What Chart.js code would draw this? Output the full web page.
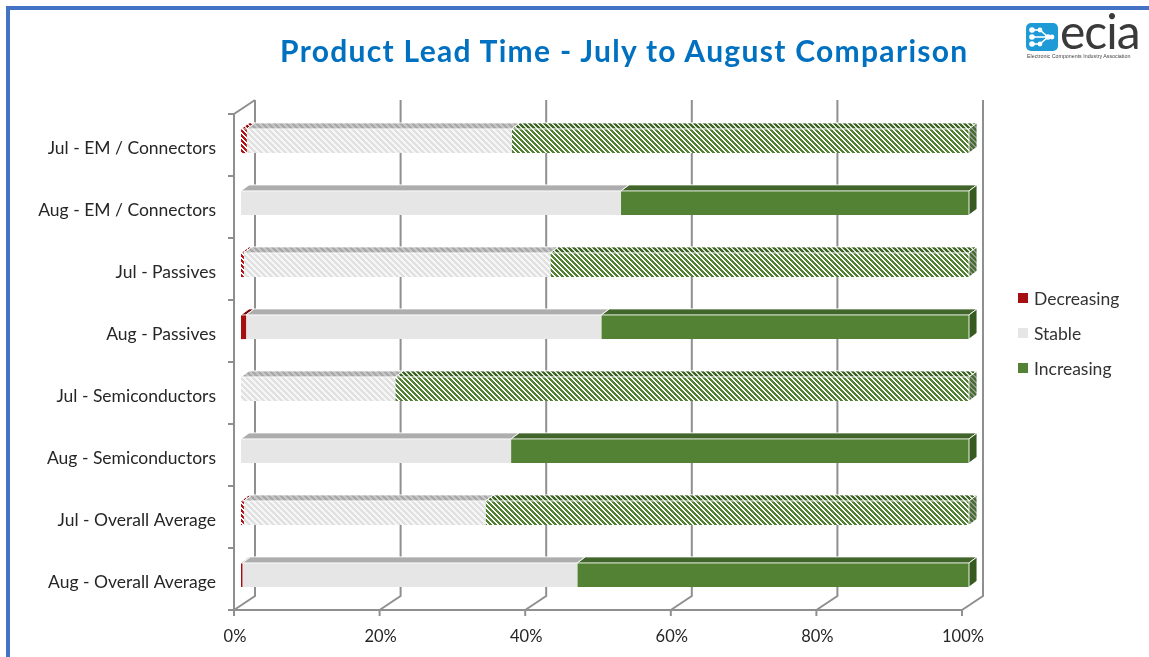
<!DOCTYPE html>
<html><head><meta charset="utf-8">
<script src="https://cdn.jsdelivr.net/npm/chart.js@4"></script>
<style>
html,body{margin:0;padding:0;background:#fff;width:1149px;height:657px;overflow:hidden;}
#frame{position:absolute;left:6px;top:6px;width:1160px;height:670px;border-top:4px solid #4472C4;border-left:4px solid #4472C4;}
#c{position:absolute;left:0;top:0;}
#title{position:absolute;left:280px;top:30px;white-space:nowrap;font-family:Lato,'Open Sans',sans-serif;font-weight:bold;color:#0070C0;font-size:30px;letter-spacing:1.3px;line-height:40px;}
#logo{position:absolute;left:1026px;top:20px;width:122px;height:44px;}
#logo .word{position:absolute;left:34px;top:-13px;font-family:Lato,sans-serif;font-size:48px;color:#3a3a3a;line-height:48px;letter-spacing:-1px;}
#logo .sub{position:absolute;left:1px;top:33px;font-family:'Liberation Sans',sans-serif;font-size:5.3px;color:#444;white-space:nowrap;}
</style></head>
<body>
<div id="frame"></div>
<canvas id="c" width="1149" height="657"></canvas>
<div id="title">Product Lead Time - July to August Comparison</div>
<div id="logo">
<svg width="32" height="28" style="position:absolute;left:0;top:3px" viewBox="0 0 32 28">
<rect x="0" y="0" width="32" height="28" rx="5" fill="#1E9AD6"/>
<g fill="#fff" stroke="#fff" stroke-width="1.6">
<circle cx="6" cy="7" r="2"/><circle cx="6" cy="14" r="2"/><circle cx="6" cy="21" r="2"/>
<circle cx="14" cy="7" r="1.6"/><circle cx="14" cy="21" r="1.6"/>
<line x1="6" y1="7" x2="14" y2="7"/><line x1="14" y1="7" x2="22" y2="14"/>
<line x1="6" y1="21" x2="14" y2="21"/><line x1="14" y1="21" x2="22" y2="14"/>
<line x1="6" y1="14" x2="26" y2="14"/>
<circle cx="22" cy="14" r="2"/><circle cx="26" cy="14" r="1.6"/>
</g></svg>
<div class="word">ecia</div>
<div class="sub">Electronic Components Industry Association</div>
</div>
<script>
// ---- data ----
const categories = ['Jul - EM / Connectors','Aug - EM / Connectors','Jul - Passives','Aug - Passives','Jul - Semiconductors','Aug - Semiconductors','Jul - Overall Average','Aug - Overall Average'];
const seriesNames = ['Decreasing','Stable','Increasing'];
const decreasing = [0.8, 0, 0.4, 0.7, 0, 0, 0.4, 0.2];
const stable     = [36.4, 52.2, 42.1, 48.8, 21.2, 37.1, 33.2, 46.0];
const increasing = [62.8, 47.8, 57.5, 50.5, 78.8, 62.9, 66.4, 53.8];
const xTicks = [0, 20, 40, 60, 80, 100];

// ---- styles ----
const solidFront = ['#A50F0F', '#E6E6E6', '#548235'];
const solidTop   = ['#7A0A0A', '#ADADAD', '#41652A'];
const solidSide  = ['#6A0808', '#9A9A9A', '#375A20'];
const mainCtx = document.getElementById('c').getContext('2d');
function stripe(c1, c2, period, on) {
  const cv = document.createElement('canvas'); cv.width = period; cv.height = period;
  const cx = cv.getContext('2d');
  for (let y = 0; y < period; y++) for (let x = 0; x < period; x++) {
    const k = ((x - y) % period + period) % period;
    cx.fillStyle = k < on ? c1 : c2; cx.fillRect(x, y, 1, 1);
  }
  return mainCtx.createPattern(cv, 'repeat');
}
const hatchFront = [stripe('#B01414','#FFFFFF',5,3), stripe('#E0E0E0','#F6F6F6',6,3), stripe('#548235','#FFFFFF',5,3)];
const hatchTop   = [stripe('#8A0A0A','#E8C8C8',5,3), stripe('#A8A8A8','#C6C6C6',6,3), stripe('#3F6428','#DDE6D6',5,3)];
const hatchSide  = [stripe('#7A0808','#B89898',5,3), stripe('#999999','#BBBBBB',6,3), stripe('#4A6B36','#8E9E84',5,3)];
const isJul = i => categories[i].startsWith('Jul');

// 3D offsets
const DX = 8, DY = -6;
const FRONT = {dx: -7, dy: 4}, BACK = {dx: 14, dy: -10};
const GRID = '#8F8F8F';
const TEXT_FONT = 'Lato';

const framePlugin = {
  id: 'frame3d',
  beforeDatasetsDraw(chart) {
    const ctx = chart.ctx, xs = chart.scales.x, ca = chart.chartArea;
    ctx.save();
    ctx.strokeStyle = GRID; ctx.lineWidth = 2; ctx.lineCap = 'butt';
    const topB = ca.top + BACK.dy, botB = ca.bottom + BACK.dy;
    const topF = ca.top + FRONT.dy, botF = ca.bottom + FRONT.dy;
    xTicks.forEach(v => {
      const px = xs.getPixelForValue(v);
      ctx.beginPath();
      ctx.moveTo(px + BACK.dx, topB); ctx.lineTo(px + BACK.dx, botB);
      ctx.lineTo(px + FRONT.dx, botF);
      ctx.stroke();
      ctx.beginPath(); ctx.moveTo(px + FRONT.dx, botF); ctx.lineTo(px + FRONT.dx, botF + 6); ctx.stroke();
    });
    const x0 = xs.getPixelForValue(0), x1 = xs.getPixelForValue(100);
    ctx.beginPath(); ctx.moveTo(x0 + FRONT.dx, botF); ctx.lineTo(x1 + FRONT.dx, botF); ctx.stroke();
    ctx.beginPath();
    ctx.moveTo(x0 + BACK.dx, topB); ctx.lineTo(x0 + FRONT.dx, topF); ctx.lineTo(x0 + FRONT.dx, botF);
    ctx.stroke();
    const n = categories.length, band = (ca.bottom - ca.top) / n;
    for (let k = 0; k <= n; k++) {
      const y = ca.top + band * k + FRONT.dy;
      ctx.beginPath(); ctx.moveTo(x0 + FRONT.dx - 6, y); ctx.lineTo(x0 + FRONT.dx, y); ctx.stroke();
    }
    ctx.restore();
  },
  afterDatasetsDraw(chart) {
    const ctx = chart.ctx;
    ctx.save();
    const metas = chart.data.datasets.map((d, i) => chart.getDatasetMeta(i));
    categories.forEach((c, i) => {
      let last = -1;
      metas.forEach((m, d) => {
        const el = m.data[i]; const p = el.getProps(['x','y','base','height'], true);
        const l = Math.min(p.x, p.base), r = Math.max(p.x, p.base);
        if (r - l < 0.05) return;
        last = d;
        const t = p.y - p.height / 2;
        ctx.beginPath();
        ctx.moveTo(l, t); ctx.lineTo(r, t); ctx.lineTo(r + DX, t + DY); ctx.lineTo(l + DX, t + DY); ctx.closePath();
        ctx.fillStyle = isJul(i) ? hatchTop[d] : solidTop[d];
        ctx.fill();
        ctx.strokeStyle = 'rgba(255,255,255,0.9)'; ctx.lineWidth = 1; ctx.stroke();
      });
      if (last >= 0) {
        const p = metas[last].data[i].getProps(['x','y','base','height'], true);
        const r = Math.max(p.x, p.base), t = p.y - p.height / 2, b = p.y + p.height / 2;
        ctx.beginPath();
        ctx.moveTo(r, t); ctx.lineTo(r + DX, t + DY); ctx.lineTo(r + DX, b + DY); ctx.lineTo(r, b); ctx.closePath();
        ctx.fillStyle = isJul(i) ? hatchSide[last] : solidSide[last];
        ctx.fill();
        ctx.strokeStyle = 'rgba(255,255,255,0.9)'; ctx.lineWidth = 1; ctx.stroke();
      }
    });
    ctx.restore();
  },
  afterDraw(chart) {
    const ctx = chart.ctx;
    ctx.save();
    ctx.font = '17.5px ' + TEXT_FONT + ', sans-serif'; ctx.textBaseline = 'middle';
    seriesNames.forEach((s, k) => {
      const y = 298 + k * 35;
      ctx.fillStyle = solidFront[k]; ctx.fillRect(1018, y - 5, 10, 10);
      ctx.fillStyle = '#333'; ctx.fillText(s, 1034, y + 1);
    });
    ctx.restore();
  }
};

const mk = (label, data, d) => ({
  label, data, borderWidth: 0,
  backgroundColor: ctx => isJul(ctx.dataIndex) ? hatchFront[d] : solidFront[d],
  categoryPercentage: 1, barPercentage: 0.39
});

new Chart(document.getElementById('c'), {
  type: 'bar',
  data: { labels: categories, datasets: [mk(seriesNames[0], decreasing, 0), mk(seriesNames[1], stable, 1), mk(seriesNames[2], increasing, 2)] },
  options: {
    responsive: false, animation: false, indexAxis: 'y',
    layout: { padding: { left: 0, right: 180, top: 110, bottom: 11 } },
    plugins: { legend: { display: false }, tooltip: { enabled: false } },
    scales: {
      x: { stacked: true, min: 0, max: 100,
        afterBuildTicks: s => { s.ticks = xTicks.map(v => ({ value: v })); },
        ticks: { callback: v => v + '%', labelOffset: -6, padding: 21, maxRotation: 0, autoSkip: false,
          font: { family: TEXT_FONT, size: 16.5 }, color: '#262626' },
        grid: { display: false, drawTicks: false }, border: { display: false },
        afterFit: s => { s.height = 40; } },
      y: { stacked: true,
        ticks: { padding: 25, labelOffset: 7, autoSkip: false, font: { family: TEXT_FONT, size: 17.5 }, color: '#262626' },
        grid: { display: false, drawTicks: false }, border: { display: false },
        afterFit: s => { s.width = 241; } }
    }
  },
  plugins: [framePlugin]
});
</script>
</body></html>
